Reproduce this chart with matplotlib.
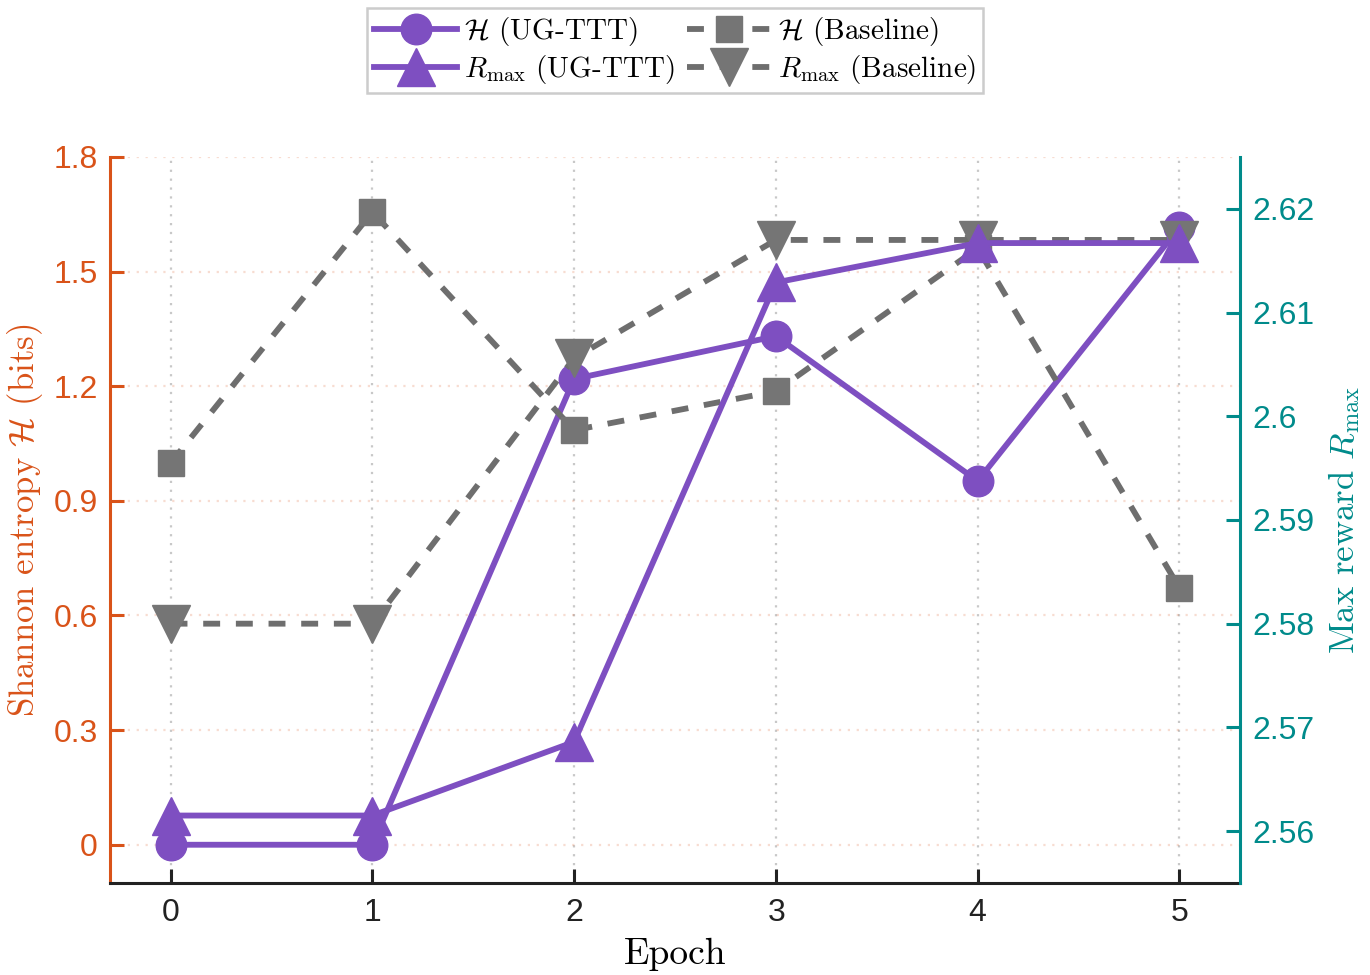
import matplotlib
matplotlib.use("Agg")
import matplotlib.pyplot as plt

plt.rcParams['mathtext.fontset'] = 'cm'
plt.rcParams['axes.formatter.use_mathtext'] = True
plt.rcParams['font.family'] = ['Liberation Sans', 'DejaVu Sans']

# Data
epochs = [0, 1, 2, 3, 4, 5]
entropy_ugttt = [0.0, 0.0, 1.219, 1.331, 0.952, 1.616]
entropy_base = [0.999, 1.656, 1.085, 1.187, 1.561, 0.672]
rmax_ugttt = [2.5615, 2.5615, 2.5686, 2.6129, 2.6167, 2.6167]
rmax_base = [2.5800, 2.5800, 2.6056, 2.6170, 2.6170, 2.6170]

left_ticks = [0, 0.3, 0.6, 0.9, 1.2, 1.5, 1.8]
left_ticklabels = ['0', '0.3', '0.6', '0.9', '1.2', '1.5', '1.8']
right_ticks = [2.56, 2.57, 2.58, 2.59, 2.6, 2.61, 2.62]
right_ticklabels = ['2.56', '2.57', '2.58', '2.59', '2.6', '2.61', '2.62']

orange = '#D95319'
teal = '#008B8B'
purple = '#7E4FC1'
grey = '#6E6E6E'
grey_marker = '#757575'

fig = plt.figure(figsize=(13.7, 9.75), dpi=100)
ax = fig.add_axes([0.0803, 0.0944, 0.8248, 0.7446])
ax2 = ax.twinx()

lw = 4.2
dash = (0, (2.9, 2.7))

h1, = ax.plot(epochs, entropy_ugttt, '-', color=purple, lw=lw, marker='o', ms=22,
              label=r'$\mathcal{H}$ (UG-TTT)')
h2, = ax.plot(epochs, entropy_base, linestyle=dash, color=grey, lw=lw, marker='s', ms=19,
              mfc=grey_marker, mec=grey_marker, label=r'$\mathcal{H}$ (Baseline)')
h4, = ax2.plot(epochs, rmax_base, linestyle=dash, color=grey, lw=lw, marker='v', ms=27,
               mfc=grey_marker, mec=grey_marker, label=r'$R_{\max}$ (Baseline)')
h3, = ax2.plot(epochs, rmax_ugttt, '-', color=purple, lw=lw, marker='^', ms=27,
               label=r'$R_{\max}$ (UG-TTT)')

ax.set_xlim(-0.3, 5.3)
ax.set_ylim(-0.1, 1.8)
ax2.set_ylim(2.555, 2.625)

ax.set_xticks(epochs)
ax.set_yticks(left_ticks)
ax.set_yticklabels(left_ticklabels)
ax2.set_yticks(right_ticks)
ax2.set_yticklabels(right_ticklabels)

ax.tick_params(axis='x', direction='in', length=10, width=2.2, labelsize=23, pad=11,
               color='#222222', labelcolor='#222222')
ax.tick_params(axis='y', direction='in', length=10, width=2.2, labelsize=23, pad=9,
               color=orange, labelcolor=orange)
ax2.tick_params(axis='y', direction='in', length=10, width=2.2, labelsize=23, pad=9,
                color=teal, labelcolor=teal)

for a in (ax, ax2):
    for side in ('top', 'left', 'right', 'bottom'):
        a.spines[side].set_visible(False)
ax.spines['left'].set_visible(True)
ax.spines['left'].set_color(orange)
ax.spines['left'].set_linewidth(2.2)
ax.spines['bottom'].set_visible(True)
ax.spines['bottom'].set_color('#222222')
ax.spines['bottom'].set_linewidth(2.2)
ax2.spines['right'].set_visible(True)
ax2.spines['right'].set_color(teal)
ax2.spines['right'].set_linewidth(2.2)

ax.xaxis.grid(True, linestyle=(0, (1, 3)), color='#c8c8c8', linewidth=1.6)
ax.yaxis.grid(True, linestyle=(0, (1, 3)), color=orange, alpha=0.2, linewidth=1.6)
ax.set_axisbelow(True)

ax.set_xlabel('Epoch', family='cmr10', fontsize=27, labelpad=7)
ax.set_ylabel(r'Shannon entropy $\mathcal{H}$ (bits)', family='cmr10', fontsize=25,
              color=orange, labelpad=6)
ax2.set_ylabel(r'Max reward $R_{\max}$', family='cmr10', fontsize=25, color=teal, labelpad=8)

leg = ax2.legend(handles=[h1, h3, h2, h4], ncol=2, loc='lower center',
                 bbox_to_anchor=(0.5, 1.088), borderaxespad=0, fancybox=False,
                 edgecolor='#cccccc', framealpha=1, handlelength=2.85, handletextpad=0.25,
                 columnspacing=0.4, labelspacing=0.15, borderpad=0.25,
                 prop={'family': 'cmr10', 'size': 21})
leg.get_frame().set_linewidth(1.8)

fig.savefig('out.png', dpi=100)
